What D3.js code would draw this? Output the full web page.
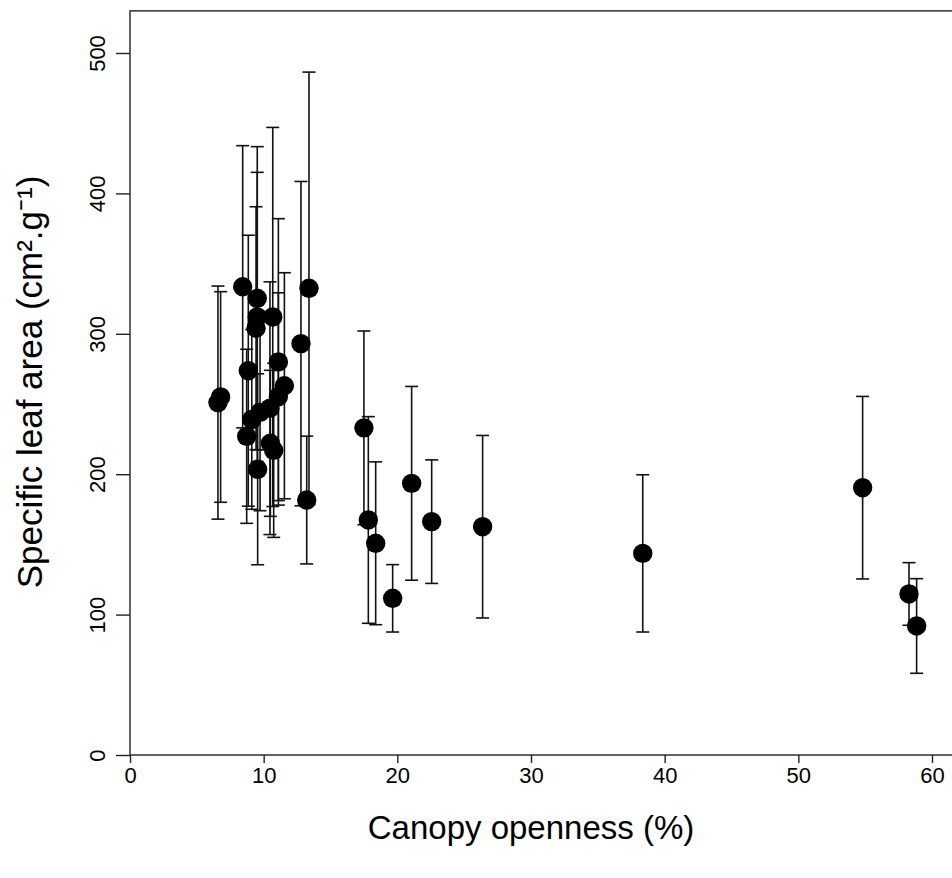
<!DOCTYPE html>
<html>
<head>
<meta charset="utf-8">
<script src="https://cdn.jsdelivr.net/npm/d3@7"></script>
<style>
  html, body { margin: 0; padding: 0; background: #fff; }
  svg { display: block; }
  text { font-family: "Liberation Sans", Arial, sans-serif; fill: #000; }
</style>
</head>
<body>
<svg id="chart" width="952" height="878"></svg>
<script>
// Canopy openness (%) per point
const openness = [6.58, 6.78, 8.43, 8.85, 8.73, 9.11, 9.55, 9.52, 9.52, 9.43, 9.73, 10.47, 10.68, 10.50, 10.75, 11.10, 11.10, 11.55, 12.79, 13.39, 13.22,
                  17.50, 17.83, 18.38, 19.65, 21.07, 22.57, 26.38, 38.36, 54.81, 58.28, 58.85];
// Specific leaf area mean (cm2.g-1)
const slaMean = [251, 255, 333.5, 273.7, 227, 239, 203.5, 325.3, 312, 304, 244, 247, 312, 222, 217, 255.2, 280, 263, 293, 332.4, 181.6,
                 233, 167.4, 150.8, 111.6, 193.5, 166.2, 162.6, 143.6, 190.4, 114.7, 91.9];
// Error (half-length of error bar)
const slaErr = [83, 75, 100.5, 96.5, 62, 64, 68, 108, 103, 86.5, 70, 90, 135, 52, 62, 74, 102, 80.5, 115.5, 154, 45.5,
                69, 73.6, 58, 24, 69, 44, 65, 56, 65, 22.3, 33.7];

const xTicks = [0, 10, 20, 30, 40, 50, 60];
const yTicks = [0, 100, 200, 300, 400, 500];

const svg = d3.select("#chart");
const x = d3.scaleLinear().domain([0, 60]).range([130, 932]);
const y = d3.scaleLinear().domain([0, 500]).range([755, 53]);

const data = openness.map((o, i) => ({ x: o, m: slaMean[i], e: slaErr[i] }));

// plot box (extends past right edge)
svg.append("rect")
  .attr("x", x(0)).attr("y", y(530))
  .attr("width", 960 - x(0)).attr("height", y(0) - y(530))
  .attr("fill", "none").attr("stroke", "#222").attr("stroke-width", 1.4);

// axes
const xAxis = svg.append("g").attr("transform", `translate(0,${y(0)})`)
  .call(d3.axisBottom(x).tickValues(xTicks).tickSize(8).tickPadding(4).tickFormat(d3.format("d")));
const yAxis = svg.append("g").attr("transform", `translate(${x(0)},0)`)
  .call(d3.axisLeft(y).tickValues(yTicks).tickSize(14).tickPadding(20).tickFormat(d3.format("d")));
[xAxis, yAxis].forEach(g => {
  g.select(".domain").remove();
  g.selectAll(".tick line").attr("stroke", "#222").attr("stroke-width", 1.4);
  g.selectAll(".tick text").style("font-size", "22px").attr("fill", "#000")
    .style("font-family", '"Liberation Sans", Arial, sans-serif');
});
xAxis.selectAll(".tick text").attr("dy", "0.71em");
yAxis.selectAll(".tick text")
  .attr("text-anchor", "middle").attr("dy", 0).attr("x", 0)
  .attr("transform", "translate(-25,0) rotate(-90)");

// error bars
const capW = 6.5;
const bars = svg.append("g").attr("stroke", "#111").attr("stroke-width", 1.6).attr("fill", "none");
bars.selectAll("line.v").data(data).join("line").attr("class", "v")
  .attr("x1", d => x(d.x)).attr("x2", d => x(d.x))
  .attr("y1", d => y(d.m + d.e)).attr("y2", d => y(d.m - d.e));
bars.selectAll("line.t").data(data).join("line").attr("class", "t")
  .attr("x1", d => x(d.x) - capW).attr("x2", d => x(d.x) + capW)
  .attr("y1", d => y(d.m + d.e)).attr("y2", d => y(d.m + d.e));
bars.selectAll("line.b").data(data).join("line").attr("class", "b")
  .attr("x1", d => x(d.x) - capW).attr("x2", d => x(d.x) + capW)
  .attr("y1", d => y(d.m - d.e)).attr("y2", d => y(d.m - d.e));

// points
svg.append("g").selectAll("circle").data(data).join("circle")
  .attr("cx", d => x(d.x)).attr("cy", d => y(d.m)).attr("r", 9.7).attr("fill", "#000");

// axis titles
svg.append("text")
  .attr("x", 531).attr("y", 839)
  .attr("text-anchor", "middle").style("font-size", "33px")
  .text("Canopy openness (%)");
svg.append("text")
  .attr("transform", "translate(42,382) rotate(-90)")
  .attr("text-anchor", "middle").style("font-size", "35px")
  .text("Specific leaf area (cm².g⁻¹)");
</script>
</body>
</html>
